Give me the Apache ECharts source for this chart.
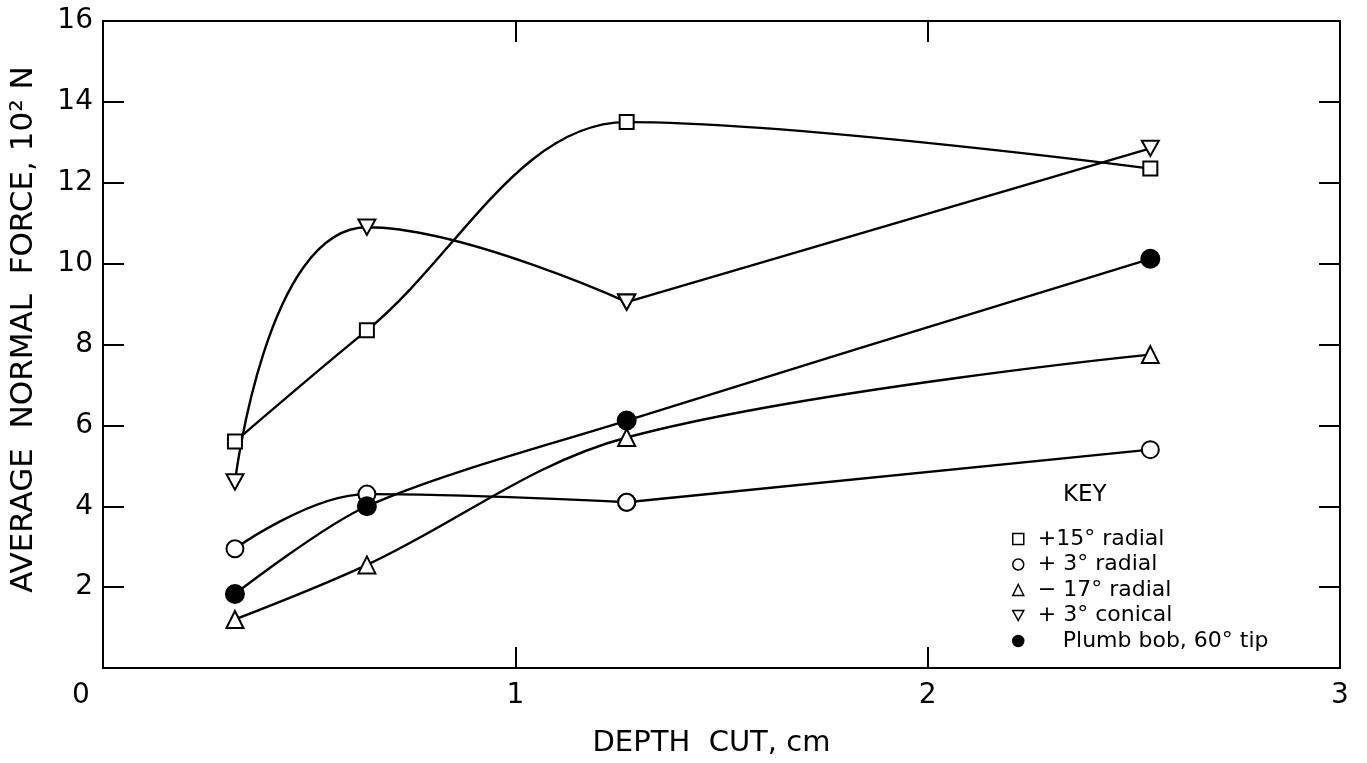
<!DOCTYPE html>
<html>
<head>
<meta charset="utf-8">
<script src="https://cdn.jsdelivr.net/npm/echarts@6/dist/echarts.min.js"></script>
<style>
  html, body { margin: 0; padding: 0; background: #fff; }
  #chart { width: 1367px; height: 763px; }
</style>
</head>
<body>
<div id="chart"></div>
<script>
// depth of cut (cm) and average normal force (10^2 N)
const depth = [0.32, 0.64, 1.27, 2.54];
const radial15 = [5.6, 8.35, 13.5, 12.35];
const radial3 = [2.95, 4.3, 4.1, 5.4];
const radialNeg17 = [1.2, 2.55, 5.7, 7.75];
const conical3 = [4.6, 10.9, 9.05, 12.85];
const plumbBob = [1.83, 4.0, 6.12, 10.12];

const names = ['+15° radial', '+ 3° radial', '− 17° radial', '+ 3° conical', 'Plumb bob, 60° tip'];

const FONT = 'DejaVu Sans';
const downTri = 'path://M0,0L10,0L5,9Z';

var chart = echarts.init(document.getElementById('chart'));

function pts(ys, from, to) {
  var out = [];
  for (var i = from; i <= to; i++) out.push([depth[i], ys[i]]);
  return out;
}

// hand-faired curves: some have a kink where the ruled straight part starts,
// those are drawn as a smooth series plus a straight one
function makeSeries(name, ys, symbol, size, fill, smooth, kinkAt) {
  var base = {
    name: name,
    type: 'line',
    symbol: symbol,
    symbolSize: size,
    symbolKeepAspect: true,
    showAllSymbol: true,
    lineStyle: { color: '#000', width: 2.4 },
    itemStyle: { color: fill, borderColor: '#000', borderWidth: 2, opacity: 1 },
    emphasis: { disabled: true },
    z: fill === '#000' ? 4 : 3
  };
  var last = ys.length - 1;
  if (kinkAt == null) {
    return [Object.assign({}, base, { data: pts(ys, 0, last), smooth: smooth })];
  }
  return [
    Object.assign({}, base, { data: pts(ys, 0, kinkAt), smooth: smooth }),
    Object.assign({}, base, { data: pts(ys, kinkAt, last), smooth: false })
  ];
}

function axisBase() {
  return {
    axisLine: { show: true, onZero: false, lineStyle: { color: '#000', width: 2 } },
    axisTick: { show: true, inside: true, length: 21, lineStyle: { color: '#000', width: 2 } },
    splitLine: { show: false }
  };
}

var option = {
  animation: false,
  backgroundColor: '#fff',
  textStyle: { fontFamily: FONT, color: '#000' },
  grid: { left: 100, right: 27, top: 21, bottom: 92 },
  title: {
    text: 'KEY',
    left: 1058,
    top: 479,
    textStyle: { fontFamily: FONT, fontSize: 23, fontWeight: 'normal', color: '#000' }
  },
  legend: {
    orient: 'vertical',
    left: 1007,
    top: 523,
    itemWidth: 11,
    itemHeight: 11,
    itemGap: 3.5,
    selectedMode: false,
    textStyle: { fontFamily: FONT, fontSize: 22, color: '#000', padding: [0, 0, 0, 9] },
    itemStyle: { borderWidth: 1.5 },
    data: [
      { name: names[0], icon: 'rect' },
      { name: names[1], icon: 'circle' },
      { name: names[2], icon: 'triangle' },
      { name: names[3], icon: downTri },
      { name: names[4], icon: 'circle', textStyle: { padding: [0, 0, 0, 34] } }
    ]
  },
  xAxis: [
    Object.assign(axisBase(), {
      type: 'value',
      min: 0,
      max: 3,
      interval: 1,
      name: 'DEPTH  CUT, cm',
      nameLocation: 'middle',
      nameGap: 61,
      nameTextStyle: { fontFamily: FONT, fontSize: 29, color: '#000', padding: [0, 20, 0, 0] },
      axisLabel: {
        margin: 14,
        fontFamily: FONT,
        fontSize: 28,
        color: '#000',
        formatter: function (v) { return v === 0 ? '{z|0}' : String(v); },
        rich: { z: { fontFamily: FONT, fontSize: 28, color: '#000', padding: [0, 44, 0, 0] } }
      }
    }),
    Object.assign(axisBase(), {
      type: 'value',
      position: 'top',
      min: 0,
      max: 3,
      interval: 1,
      axisLabel: { show: false }
    })
  ],
  yAxis: [
    Object.assign(axisBase(), {
      type: 'value',
      min: 0,
      max: 16,
      interval: 2,
      name: 'AVERAGE  NORMAL  FORCE, 10² N',
      nameLocation: 'middle',
      nameGap: 64,
      nameTextStyle: { fontFamily: FONT, fontSize: 31, color: '#000', padding: [0, 0, 0, 30] },
      axisLabel: {
        showMinLabel: false,
        margin: 10,
        fontFamily: FONT,
        fontSize: 28,
        color: '#000'
      }
    }),
    Object.assign(axisBase(), {
      type: 'value',
      position: 'right',
      min: 0,
      max: 16,
      interval: 2,
      axisLabel: { show: false }
    })
  ],
  series: [].concat(
    makeSeries(names[0], radial15, 'rect', 14, '#fff', 0.35, null),
    makeSeries(names[1], radial3, 'circle', 17, '#fff', 0.4, 2),
    makeSeries(names[2], radialNeg17, 'triangle', 17, '#fff', 0.35, null),
    makeSeries(names[3], conical3, downTri, 17, '#fff', 0.5, 2),
    makeSeries(names[4], plumbBob, 'circle', 18, '#000', 0.3, null)
  )
};

chart.setOption(option);
</script>
</body>
</html>
